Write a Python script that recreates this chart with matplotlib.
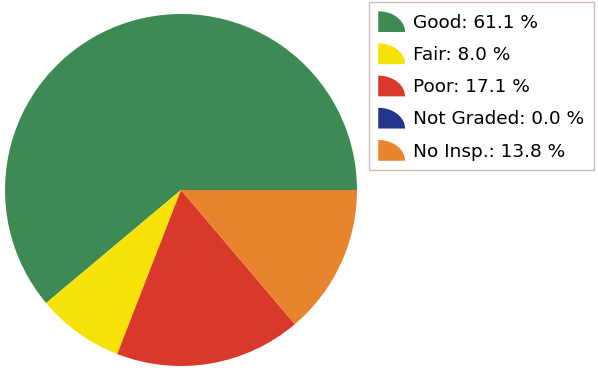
import matplotlib
matplotlib.use("Agg")
import matplotlib.pyplot as plt
from matplotlib.legend_handler import HandlerBase
from matplotlib.patches import Polygon, Patch
import numpy as np

categories = ["Good", "Fair", "Poor", "Not Graded", "No Insp."]
values = [61.1, 8.0, 17.1, 0.0, 13.8]
colors = ["#3d8a55", "#f7e207", "#d8392b", "#22348c", "#e8842e"]


class QuarterHandler(HandlerBase):
    def create_artists(self, legend, orig_handle, xdescent, ydescent,
                       width, height, fontsize, trans):
        t = np.linspace(0, np.pi / 2, 40)
        pts = [(0, 0)] + [(width * np.cos(a), height * np.sin(a)) for a in t]
        pts = [(x - xdescent, y - ydescent) for x, y in pts]
        p = Polygon(pts, closed=True, facecolor=orig_handle.get_facecolor(),
                    edgecolor="none", transform=trans)
        return [p]


fig = plt.figure(figsize=(5.98, 3.70), dpi=100)
ax = fig.add_axes([5 / 598, 4 / 370, 352 / 598, 352 / 370])
wedges, _ = ax.pie(values, colors=colors, startangle=0, counterclock=True,
                   wedgeprops=dict(linewidth=0))
ax.set_xlim(-1, 1)
ax.set_ylim(-1, 1)
ax.set_aspect("equal")

handles = [Patch(facecolor=c) for c in colors]
labels = [f"{n}: {v:.1f} %" for n, v in zip(categories, values)]
leg = fig.legend(handles, labels, loc="upper left",
                 bbox_to_anchor=(369 / 598, 1 - 2 / 370),
                 handler_map={Patch: QuarterHandler()},
                 fontsize=13.3, handlelength=1.45, handleheight=1.35,
                 labelspacing=0.62, handletextpad=0.45, borderpad=0.5,
                 borderaxespad=0, fancybox=False, frameon=True)
leg.get_frame().set_edgecolor("#c9aaa2")
leg.get_frame().set_linewidth(1.0)

fig.savefig("out.png", dpi=100)
